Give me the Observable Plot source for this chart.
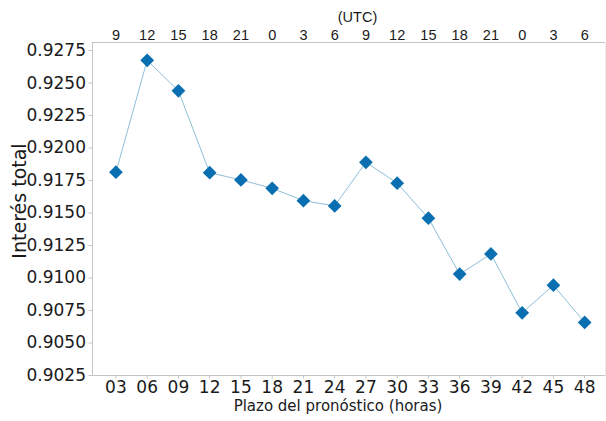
<!DOCTYPE html>
<html>
<head>
<meta charset="utf-8">
<script src="https://cdn.jsdelivr.net/npm/d3@7"></script>
<script src="https://cdn.jsdelivr.net/npm/@observablehq/plot@0.6"></script>
<style>
  body { margin: 0; background: #fff; }
  #chart { width: 606px; height: 421px; }
</style>
</head>
<body>
<div id="chart"></div>
<script>
// Forecast lead time (hours) and the matching valid hour in UTC
const leadHours = [3, 6, 9, 12, 15, 18, 21, 24, 27, 30, 33, 36, 39, 42, 45, 48];
const utcHours  = [9, 12, 15, 18, 21, 0, 3, 6, 9, 12, 15, 18, 21, 0, 3, 6];
// Total interest per lead time
const interest = [0.91814, 0.92675, 0.92440, 0.91810, 0.91755, 0.91690,
                  0.91595, 0.91555, 0.91890, 0.91730, 0.91460, 0.91030,
                  0.91185, 0.90732, 0.90945, 0.90658];
// Y axis tick values
const yTicks = [0.9025, 0.9050, 0.9075, 0.9100, 0.9125, 0.9150,
                0.9175, 0.9200, 0.9225, 0.9250, 0.9275];

const rows = leadHours.map((h, i) => ({lead: h, utc: utcHours[i], value: interest[i]}));
const utcByLead = new Map(rows.map(d => [d.lead, d.utc]));

const spine = "#c4c4c4";

const chart = Plot.plot({
  width: 606,
  height: 421,
  marginLeft: 92,
  marginRight: 1,
  marginTop: 42,
  marginBottom: 46,
  style: {fontFamily: "DejaVu Sans", fontSize: "17px", color: "#1a1a1a", background: "#fff", overflow: "visible"},
  x: {domain: [0.75, 50], axis: null},
  y: {domain: [0.9025, 0.92812], axis: null},
  marks: [
    // axes spines
    Plot.frame({anchor: "left", stroke: spine}),
    Plot.frame({anchor: "bottom", stroke: spine}),
    Plot.frame({anchor: "top", stroke: spine}),
    Plot.frame({anchor: "right", stroke: "#ececec"}),
    // left axis
    Plot.axisY(yTicks, {
      anchor: "left", tickSize: 3.5, tickPadding: 3, stroke: spine,
      tickFormat: d3.format(".4f"), fontSize: 17, label: null
    }),
    // bottom axis: lead time
    Plot.axisX(leadHours, {
      anchor: "bottom", tickSize: 3.5, tickPadding: 2, stroke: spine,
      tickFormat: d3.format("02d"), fontSize: 17, label: null
    }),
    // top axis: valid hour (UTC)
    Plot.axisX(leadHours, {
      anchor: "top", tickSize: 0, tickPadding: 3,
      tickFormat: d => utcByLead.get(d),
      fontFamily: "Liberation Sans", fontSize: 14.5, label: null
    }),
    Plot.text(["(UTC)"], {
      frameAnchor: "top", textAnchor: "middle", lineAnchor: "middle", dx: 8.5, dy: -25,
      fontFamily: "Liberation Sans", fontSize: 14.5, fill: "#1a1a1a"
    }),
    // axis titles
    Plot.text(["Plazo del pronóstico (horas)"], {
      frameAnchor: "bottom", textAnchor: "middle", lineAnchor: "middle", dx: -11, dy: 31,
      fontSize: 15, fill: "#1a1a1a"
    }),
    Plot.text(["Interés total"], {
      frameAnchor: "left", textAnchor: "middle", lineAnchor: "middle", dx: -73, dy: -8,
      rotate: -90, fontSize: 19, fill: "#1a1a1a"
    }),
    // series
    Plot.line(rows, {x: "lead", y: "value", stroke: "#8ec0d8", strokeWidth: 1}),
    Plot.dot(rows, {x: "lead", y: "value", symbol: "diamond2", r: 6.2, fill: "#0a6fb1", stroke: "none"})
  ]
});

document.getElementById("chart").append(chart);
</script>
</body>
</html>
